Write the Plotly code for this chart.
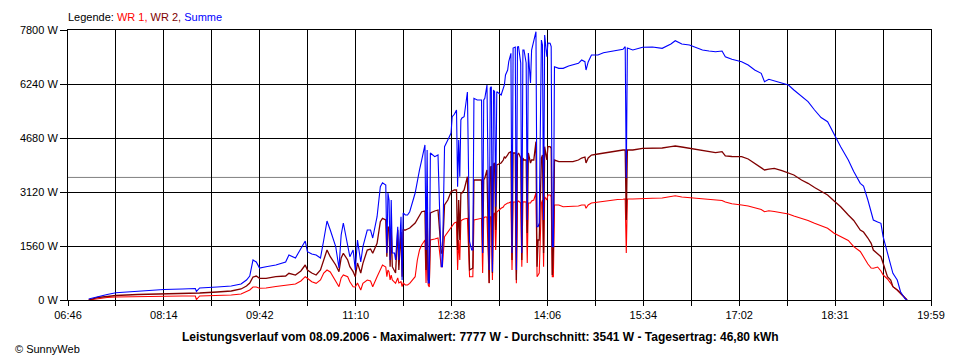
import plotly.graph_objects as go

# ---------------- data ----------------
times = [
 "07:05","07:13","07:22","07:30","07:50","08:14","08:31","08:43","08:44","08:47",
 "09:03","09:16","09:25","09:30","09:33","09:36","09:39","09:42","09:48","09:57",
 "10:06","10:09","10:15","10:20","10:24","10:26","10:30","10:34","10:38","10:41",
 "10:44","10:47","10:52","10:55","10:57","10:59","11:03","11:05","11:08","11:10",
 "11:12","11:15","11:17","11:21","11:24","11:26","11:30","11:33","11:35","11:38",
 "11:39","11:40","11:41","11:42","11:43","11:44","11:46","11:47","11:49","11:50",
 "11:52","11:53","11:54","11:56","11:58","12:00","12:05","12:07","12:09","12:11",
 "12:14","12:15","12:16","12:17","12:18","12:19","12:23","12:26","12:29","12:30",
 "12:32","12:35","12:38","12:39","12:41","12:43","12:44","12:45","12:46","12:47",
 "12:48","12:50","12:53","12:55","12:57","12:58","12:59","13:02","13:06","13:07",
 "13:08","13:09","13:10","13:11","13:13","13:14","13:15","13:16","13:17","13:18",
 "13:19","13:20","13:24","13:26","13:27","13:28","13:30","13:31","13:33","13:34",
 "13:35","13:37","13:38","13:39","13:40","13:42","13:43","13:44","13:45","13:47",
 "13:48","13:49","13:51","13:52","13:54","13:56","13:57","13:58","13:59","14:01",
 "14:02","14:03","14:04","14:06","14:07","14:09","14:10","14:11","14:12","14:13",
 "14:17","14:21","14:26","14:30","14:35","14:38","14:41","14:42","14:44","14:47",
 "14:53","14:58","15:02","15:07","15:11","15:16","15:18","15:19","15:20","15:25",
 "15:34","15:43","15:52","16:00","16:04","16:10","16:17","16:22","16:29","16:35",
 "16:41","16:47","16:50","16:56","17:05","17:11","17:17","17:23","17:26","17:30",
 "17:35","17:42","17:48","17:53","18:00","18:06","18:12","18:18","18:24","18:30",
 "18:36","18:43","18:48","18:54","18:57","19:01","19:04","19:06","19:10","19:13",
 "19:15","19:19","19:22","19:24","19:28","19:31","19:34","19:35","19:37",
]

summe = [
 29,95,159,211,260,303,318,332,246,347,
 376,404,462,578,693,1156,1098,924,962,1011,
 1098,1300,1213,1502,1704,1395,1329,1300,1213,1733,
 2282,2022,1540,924,1878,2224,1540,1251,1444,867,
 1733,1098,1540,2022,2022,1791,2406,3273,3389,3322,
 1358,3091,2889,1156,2889,1358,1358,1156,2118,1156,
 2406,578,2513,2456,2456,2551,3091,3467,3756,4044,
 4478,1444,4333,491,491,4247,4140,4189,962,962,
 4429,4622,4824,5295,5365,5489,3273,4622,3562,5200,
 5258,5295,6009,1684,1444,1444,5827,5778,5778,1358,
 5778,5827,5980,6211,867,6124,6162,818,6067,6018,
 2695,6018,5922,6124,6211,6500,6644,6884,7127,1358,
 7280,7309,867,7309,7318,6847,1358,7222,7222,6847,
 2311,7136,6269,7222,7511,7751,2118,2118,2224,7511,
 7367,2311,7656,7029,7424,7416,7318,1540,1540,6740,
 6692,6692,6760,6789,6838,6933,6884,6644,6876,7078,
 7078,7144,7165,7202,7222,7242,7318,3524,7280,7222,
 7300,7309,7271,7396,7491,7396,7367,7309,7222,7193,
 7173,7193,7029,6953,6884,6789,6644,6548,6307,6376,
 6327,6269,6211,6067,5893,5729,5489,5272,5151,4767,
 4429,4044,3712,3371,3293,2889,2505,2311,2253,2216,
 1829,1349,962,771,578,240,95,43,0,
]

wr2 = [
 0,72,101,130,159,173,188,202,202,202,
 231,260,318,404,491,664,693,627,627,673,
 693,771,722,838,1011,867,780,722,867,1156,
 1444,1251,1011,818,1213,1349,1156,962,818,673,
 1069,780,1060,1444,1473,1349,1638,2262,2360,2311,
 1251,2118,2080,962,2022,962,867,780,2022,867,
 1964,673,2022,2022,2051,2080,2224,2340,2456,2551,
 2571,867,2551,578,491,2513,2571,2600,1358,1358,
 2744,2889,3129,3149,3178,3178,1444,2889,1733,3091,
 3091,3178,3562,867,924,924,3467,3467,3467,1358,
 3467,3524,3698,3756,491,3842,3851,780,3929,3958,
 2022,3900,3958,4044,4140,4102,4189,4247,4284,1156,
 4247,4247,578,4189,4247,4102,1156,4102,4044,4044,
 1936,4247,3958,4044,4044,4573,962,1733,1733,4102,
 4189,1358,4429,4044,4429,4429,4382,722,1444,4044,
 3995,3995,3995,3995,4044,4102,4131,3958,4102,4189,
 4218,4247,4261,4284,4304,4333,4333,2311,4333,4333,
 4382,4391,4391,4429,4449,4420,4382,4362,4333,4290,
 4256,4284,4160,4145,4140,4073,3949,3842,3756,3784,
 3804,3735,3677,3611,3467,3371,3250,3129,3033,2860,
 2695,2456,2297,2022,1964,1791,1638,1444,1329,1251,
 1060,673,578,384,289,194,87,43,0,
]

wr1 = [
 0,43,72,87,101,107,116,116,14,116,
 130,144,173,231,289,376,376,338,347,390,
 419,433,462,549,673,627,529,482,578,780,
 867,809,529,384,636,722,673,529,384,376,
 491,289,482,578,549,384,673,867,1011,953,
 673,867,809,578,722,578,520,482,636,491,
 529,384,491,433,433,482,673,1156,1444,1589,
 1733,491,1733,433,376,1733,1762,1791,962,962,
 1829,1964,2118,2167,2224,2253,867,1733,1156,2282,
 2311,2340,2360,673,673,673,2311,2340,2360,780,
 2369,2398,2398,2398,482,2406,2406,578,2484,2513,
 1444,2542,2649,2687,2744,2773,2802,2802,2840,867,
 2831,2831,482,2831,2860,2802,962,2831,2840,2831,
 1069,2802,2802,2860,2889,3091,673,722,780,2802,
 2889,962,2984,2889,3033,3033,2984,673,673,2744,
 2744,2695,2695,2695,2716,2744,2744,2649,2744,2802,
 2831,2840,2860,2889,2903,2909,2918,1358,2918,2918,
 2938,2938,2947,2990,3013,2976,2955,2947,2938,2918,
 2889,2874,2831,2782,2744,2716,2666,2614,2551,2580,
 2556,2522,2484,2427,2360,2297,2216,2152,2071,1927,
 1820,1719,1540,1401,1251,1040,924,916,953,838,
 722,607,482,384,289,194,87,43,0,
]

x_tick_labels = ["06:46", "08:14", "09:42", "11:10", "12:38",
                 "14:06", "15:34", "17:02", "18:31", "19:59"]
y_tick_values = [0, 1560, 3120, 4680, 6240, 7800]
average_w = 3541
title_text = ("Leistungsverlauf vom 08.09.2006 - Maximalwert: 7777 W - "
              "Durchschnitt: 3541 W - Tagesertrag: 46,80 kWh")

# ---------------- helpers ----------------
def to_min(s):
    h, m = s.split(":")
    return int(h) * 60 + int(m)

xm = [to_min(t) for t in times]
x0 = to_min(x_tick_labels[0])
x1 = to_min(x_tick_labels[-1])
n_div = (len(x_tick_labels) - 1) * 2
grid_x = [x0 + (x1 - x0) * k / n_div for k in range(n_div + 1)]
grid_text = [x_tick_labels[k // 2] if k % 2 == 0 else "" for k in range(n_div + 1)]

FONT = "Liberation Sans, Arial, sans-serif"

# the page body has an 8px default margin: the figure is sized so that the
# plot lands at the reference position inside the 960x360 window
PAGE_OFF = 8
PLOT_W, PLOT_H = 871, 270
L, T = 60 - PAGE_OFF, 30 - PAGE_OFF
FIG_W, FIG_H = 960 - PAGE_OFF, 360 - PAGE_OFF

fig = go.Figure()
for name, vals, col, w in [("WR 1", wr1, "#ff0000", 1.1),
                           ("WR 2", wr2, "#800000", 1.3),
                           ("Summe", summe, "#0000ff", 1.1)]:
    fig.add_trace(go.Scatter(x=xm, y=vals, mode="lines", name=name,
                             line=dict(color=col, width=w, shape="linear"),
                             hoverinfo="skip"))

fig.add_shape(type="line", xref="paper", x0=0, x1=1, yref="y",
              y0=average_w, y1=average_w, line=dict(color="#808080", width=1),
              layer="between")

fig.update_layout(
    width=FIG_W, height=FIG_H,
    margin=dict(l=L, r=FIG_W - L - PLOT_W, t=T, b=FIG_H - T - PLOT_H),
    paper_bgcolor="white", plot_bgcolor="white",
    showlegend=False,
    font=dict(family=FONT, size=11, color="black"),
    xaxis=dict(range=[x0, x1], tickvals=grid_x, ticktext=grid_text,
               showgrid=True, gridcolor="black", gridwidth=1,
               showline=True, linecolor="black", linewidth=1, mirror=True,
               ticks="outside", ticklen=5, tickcolor="black",
               zeroline=False, fixedrange=True),
    yaxis=dict(range=[0, 7800], tickvals=y_tick_values,
               ticktext=[f"{v} W" for v in y_tick_values],
               showgrid=True, gridcolor="black", gridwidth=1,
               showline=True, linecolor="black", linewidth=1, mirror=True,
               ticks="outside", ticklen=7, tickcolor="black",
               zeroline=False, fixedrange=True),
    annotations=[
        dict(xref="paper", yref="paper", x=0, y=1, xanchor="left", yanchor="bottom",
             yshift=5, xshift=-2, showarrow=False,
             text=("Legende: <span style='color:#ff0000'>WR 1,</span> "
                   "<span style='color:#800000'>WR 2,</span> "
                   "<span style='color:#0000ff'>Summe</span>"),
             font=dict(family=FONT, size=11, color="black")),
        dict(xref="paper", yref="paper", x=(476 - 60) / PLOT_W, y=-36.7 / PLOT_H,
             xanchor="center", yanchor="middle", showarrow=False,
             text=f"<b>{title_text}</b>",
             font=dict(family=FONT, size=12, color="black")),
        dict(xref="paper", yref="paper", x=(4 - 60) / PLOT_W, y=-48.5 / PLOT_H,
             xanchor="left", yanchor="middle", showarrow=False,
             text="© SunnyWeb", font=dict(family=FONT, size=11, color="black")),
    ],
)

fig.write_html("out.html", config={"displayModeBar": False, "staticPlot": True})
